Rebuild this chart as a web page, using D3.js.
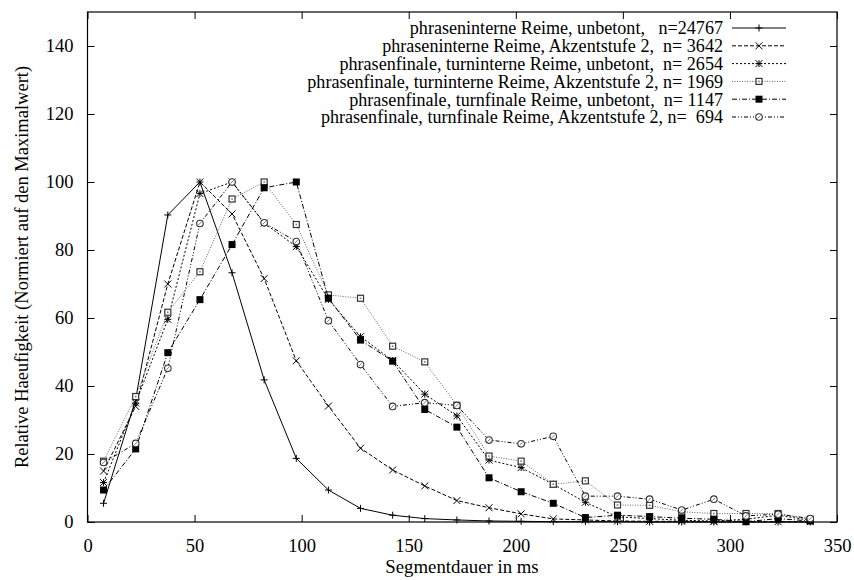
<!DOCTYPE html>
<html><head><meta charset="utf-8">
<script src="https://cdn.jsdelivr.net/npm/d3@7"></script>
<style>body{margin:0;background:#fff}svg{display:block}</style>
</head><body><svg id="c" width="854" height="580"></svg>
<script>
const xValues = [7.5,22.5,37.5,52.5,67.5,82.5,97.5,112.5,127.5,142.5,157.5,172.5,187.5,202.5,217.5,232.5,247.5,262.5,277.5,292.5,307.5,322.5,337.5];
const s1 = [5.5,36,90.3,100,73.3,41.8,18.7,9.4,4.0,2.0,1.0,0.6,0.3,0.2,0.1,0.1,0.1,0,0,0,0,0,0];
const s2 = [15.0,34,70.0,100,90.6,71.6,47.4,34.1,21.7,15.3,10.6,6.3,4.2,2.4,0.9,0.6,0.3,0.2,0.2,0.1,0.1,0.1,0.1];
const s3 = [11.6,35,59.6,96.6,100,87.9,81.0,65.5,54.5,47.5,37.6,31.2,18.2,16.0,11.1,5.8,1.5,1.0,0.5,0.3,0.8,2.0,0.5];
const s4 = [17.9,36.9,61.7,73.6,95.0,100,87.5,66.8,65.8,51.7,47.1,34.3,19.4,17.9,11.1,12.1,5.0,4.9,3.0,2.5,2.5,2.5,0.8];
const s5 = [9.4,21.5,49.8,65.4,81.6,98.3,100,65.8,53.5,47.3,33.1,27.9,13.0,8.9,5.5,1.3,2.0,1.6,1.1,0.8,0.1,1.0,0.3];
const s6 = [17.5,23.1,45.2,87.8,100,88.0,82.5,59.2,46.3,34.0,35.1,34.3,24.1,23.0,25.2,7.6,7.6,6.7,3.5,6.7,1.8,2.3,1.0];
const labels = [
 "phraseninterne Reime, unbetont,   n=24767",
 "phraseninterne Reime, Akzentstufe 2,  n= 3642",
 "phrasenfinale, turninterne Reime, unbetont,  n= 2654",
 "phrasenfinale, turninterne Reime, Akzentstufe 2, n= 1969",
 "phrasenfinale, turnfinale Reime, unbetont,  n= 1147",
 "phrasenfinale, turnfinale Reime, Akzentstufe 2, n=  694"
];
const xTicks = [0,50,100,150,200,250,300,350];
const yTicks = [0,20,40,60,80,100,120,140];
const xTitle = "Segmentdauer in ms";
const yTitle = "Relative Haeufigkeit (Normiert auf den Maximalwert)";

const FONT = "Liberation Serif";
const series = [s1,s2,s3,s4,s5,s6];
const styles = [
 {dash:null, color:"#000", marker:"plus"},
 {dash:"4,2", color:"#000", marker:"cross"},
 {dash:"2,2", color:"#000", marker:"star"},
 {dash:"1,1.5", color:"#666", marker:"box"},
 {dash:"5,2,1,2", color:"#000", marker:"fbox"},
 {dash:"4,2,1,2,1,2", color:"#000", marker:"circle"}
];

const svg = d3.select("#c");
const L=87.5, R=837, T=12, B=522;
const x = d3.scaleLinear().domain([0,350]).range([L,R]);
const y = d3.scaleLinear().domain([0,150]).range([B,T]);

const gx = svg.append("g").attr("transform",`translate(0,${B})`)
  .call(d3.axisBottom(x).tickValues(xTicks).tickSize(-7).tickPadding(17).tickFormat(d3.format("d")));
const gxt = svg.append("g").attr("transform",`translate(0,${T})`)
  .call(d3.axisTop(x).tickValues(xTicks).tickSize(-7).tickFormat(""));
const gy = svg.append("g").attr("transform",`translate(${L},0)`)
  .call(d3.axisLeft(y).tickValues(yTicks).tickSize(-7).tickPadding(14).tickFormat(d3.format("d")));
const gyr = svg.append("g").attr("transform",`translate(${R},0)`)
  .call(d3.axisRight(y).tickValues(yTicks).tickSize(-7).tickFormat(""));
[gx,gxt,gy,gyr].forEach(g=>{g.select(".domain").remove();g.selectAll("line").attr("stroke","#000");
  g.attr("font-family",null).attr("font-size",null);
  g.selectAll("text").attr("fill","#000").attr("font-family",FONT).attr("font-size",18.5);});
svg.append("rect").attr("x",L).attr("y",T).attr("width",R-L).attr("height",B-T)
  .attr("fill","none").attr("stroke","#000").attr("stroke-width",1.2);

svg.append("text").attr("x",462).attr("y",573).attr("text-anchor","middle")
  .attr("font-family",FONT).attr("font-size",18.8).text(xTitle);
svg.append("text").attr("transform",`translate(28,${(T+B)/2}) rotate(-90)`).attr("text-anchor","middle")
  .attr("font-family",FONT).attr("font-size",18.5).text(yTitle);

function marker(g, type, cx, cy, color){
  const s=3.5;
  if(type==="plus"||type==="star"){
    g.append("path").attr("d",`M${cx-s},${cy}H${cx+s}M${cx},${cy-s}V${cy+s}`).attr("stroke",color).attr("fill","none");
  }
  if(type==="cross"||type==="star"){
    g.append("path").attr("d",`M${cx-s},${cy-s}L${cx+s},${cy+s}M${cx-s},${cy+s}L${cx+s},${cy-s}`).attr("stroke",color).attr("fill","none");
  }
  if(type==="box"){
    g.append("rect").attr("x",cx-3).attr("y",cy-3).attr("width",6).attr("height",6).attr("fill","#fff").attr("stroke","#333").attr("stroke-width",1.2);
    g.append("rect").attr("x",cx-0.8).attr("y",cy-0.8).attr("width",1.6).attr("height",1.6).attr("fill","#777");
  }
  if(type==="fbox"){
    g.append("rect").attr("x",cx-3.5).attr("y",cy-3.5).attr("width",7).attr("height",7).attr("fill","#000");
  }
  if(type==="circle"){
    g.append("circle").attr("cx",cx).attr("cy",cy).attr("r",3.3).attr("fill","#fff").attr("stroke","#333").attr("stroke-width",1.1);
    g.append("path").attr("d",`M${cx-1.5},${cy+1.5}L${cx+1.5},${cy-1.5}`).attr("stroke","#555").attr("stroke-width",0.8);
  }
}

const line = d3.line().x((d,i)=>x(xValues[i])).y(d=>y(d));
series.forEach((s,k)=>{
  const st=styles[k];
  const g=svg.append("g");
  g.append("path").datum(s).attr("d",line).attr("fill","none").attr("stroke",st.color).attr("stroke-width",1)
    .attr("stroke-dasharray",st.dash);
  s.forEach((v,i)=>marker(g,st.marker,x(xValues[i]),y(v),st.color));
});

const legX=723, l1=732, l2=786, ly0=28, dy=17.8;
labels.forEach((t,k)=>{
  const st=styles[k], yy=ly0+k*dy;
  const g=svg.append("g");
  g.append("text").attr("x",legX).attr("y",yy).attr("dy","0.35em").attr("text-anchor","end")
    .attr("font-family",FONT).attr("font-size",18.1).style("white-space","pre").text(t);
  g.append("line").attr("x1",l1).attr("x2",l2).attr("y1",yy).attr("y2",yy).attr("stroke",st.color).attr("stroke-dasharray",st.dash);
  marker(g,st.marker,(l1+l2)/2,yy,st.color);
});
</script></body></html>
